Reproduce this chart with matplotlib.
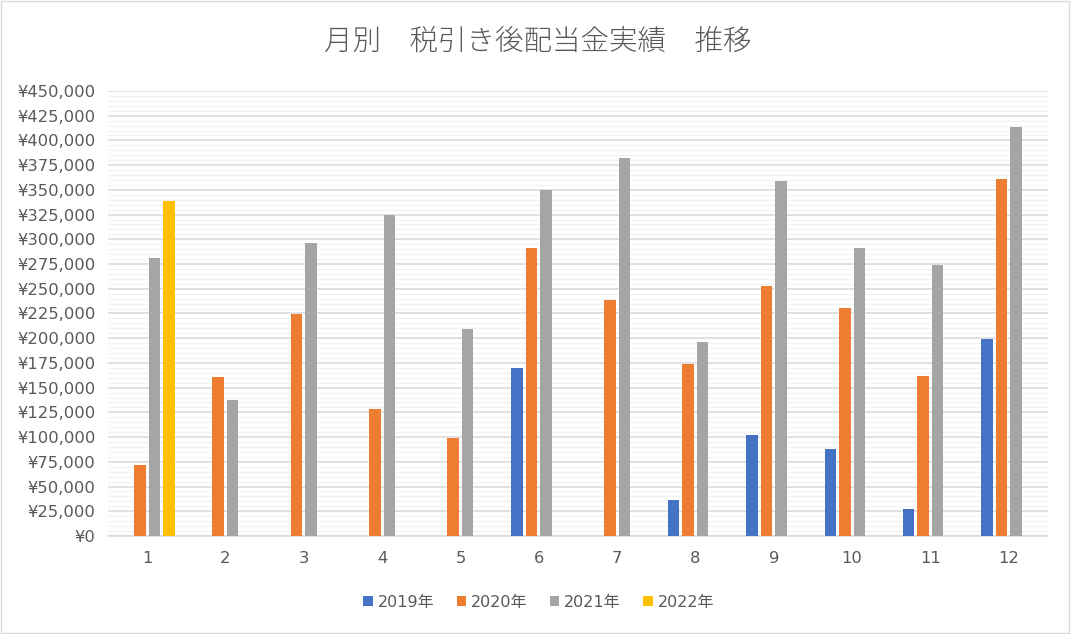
import numpy as np
import matplotlib
matplotlib.use("Agg")
import matplotlib.pyplot as plt
from matplotlib.ticker import MultipleLocator, FuncFormatter
from matplotlib.patches import Rectangle

plt.rcParams['font.family'] = ['DejaVu Sans', 'Noto Sans CJK JP']

months = ["1", "2", "3", "4", "5", "6", "7", "8", "9", "10", "11", "12"]
series_names = ["2019年", "2020年", "2021年", "2022年"]
colors = ["#4472C4", "#ED7D31", "#A5A5A5", "#FFC000"]

v2019 = [None, None, None, None, None, 170000, None, 36500, 102000, 88000, 27500, 199000]
v2020 = [72000, 161000, 224500, 128500, 99000, 291000, 238500, 174000, 253000, 230500, 162000, 361000]
v2021 = [281000, 137500, 296500, 324500, 209500, 350000, 382000, 196000, 359000, 291000, 274500, 413500]
v2022 = [339000, None, None, None, None, None, None, None, None, None, None, None]

title = "月別　税引き後配当金実績　推移"

data = [v2019, v2020, v2021, v2022]

fig = plt.figure(figsize=(10.71, 6.34), dpi=100)
ax = fig.add_axes([0.1008, 0.1546, 0.8777, 0.7019])

x = np.arange(len(months))
step = 0.185
bw = 0.147
for i, (name, vals, c) in enumerate(zip(series_names, data, colors)):
    arr = np.array([np.nan if v is None else v for v in vals], dtype=float)
    ax.bar(x + (i - 1.5) * step, arr, width=bw, color=c, label=name, zorder=3)

ax.set_xlim(-0.5, len(months) - 0.5)
ax.set_ylim(0, 450000)
ax.yaxis.set_major_locator(MultipleLocator(25000))
ax.yaxis.set_minor_locator(MultipleLocator(5000))
ax.yaxis.set_major_formatter(FuncFormatter(lambda v, p: "¥{:,.0f}".format(v)))
ax.set_xticks(x)
ax.set_xticklabels(months)

ax.grid(which='major', axis='y', color='#D9D9D9', linewidth=1.1, zorder=1)
ax.grid(which='minor', axis='y', color='#F2F2F2', linewidth=0.8, zorder=0)
for s in ['top', 'right', 'left']:
    ax.spines[s].set_visible(False)
ax.spines['bottom'].set_color('#D9D9D9')
ax.spines['bottom'].set_linewidth(1.1)
ax.tick_params(axis='both', which='both', length=0, colors='#595959', labelsize=11.8)
ax.tick_params(axis='y', pad=9)
ax.tick_params(axis='x', pad=11)

fig.text(0.502, 0.934, title, ha='center', va='center', fontsize=20.5, color='#595959',
         family=['Noto Sans CJK JP', 'DejaVu Sans'], fontweight='light')

leg = fig.legend(loc='center', bbox_to_anchor=(0.503, 0.05), ncol=4, frameon=False,
                 fontsize=11.5, handlelength=0.6, handleheight=0.6, handletextpad=0.3,
                 columnspacing=1.4)
for t in leg.get_texts():
    t.set_color('#595959')

fig.patches.append(Rectangle((0.001, 0.002), 0.997, 0.996, transform=fig.transFigure,
                             fill=False, edgecolor='#D9D9D9', linewidth=1.0))

fig.savefig("out.png", dpi=100)
